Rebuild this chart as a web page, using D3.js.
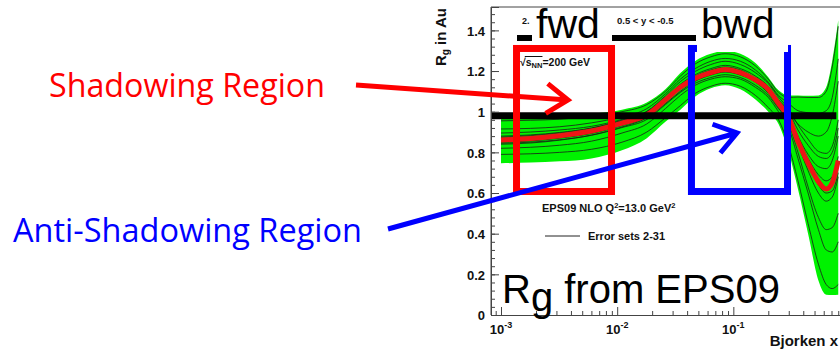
<!DOCTYPE html>
<html>
<head>
<meta charset="utf-8">
<script src="https://cdn.jsdelivr.net/npm/d3@7"></script>
<style>
  body { margin: 0; background: #fff; }
  svg { display: block; }
</style>
</head>
<body>
<svg id="chart" width="840" height="350"></svg>
<script>
// Bjorken-x sampling points of the EPS09 gluon modification
const bjorkenX = [0.001, 0.0018, 0.0032, 0.006, 0.011, 0.018, 0.026, 0.035, 0.047, 0.064, 0.085,
                  0.115, 0.155, 0.2, 0.245, 0.3, 0.36, 0.44, 0.54, 0.63, 0.71, 0.8];
// central set
const centralRg = [0.861, 0.868, 0.882, 0.905, 0.944, 0.984, 1.058, 1.120, 1.164, 1.192, 1.208,
                   1.192, 1.156, 1.110, 1.040, 0.970, 0.853, 0.747, 0.656, 0.620, 0.650, 0.760];
// uncertainty envelope
const bandLow  = [0.746, 0.750, 0.756, 0.770, 0.810, 0.870, 0.950, 1.010, 1.075, 1.115, 1.130,
                  1.110, 1.060, 1.000, 0.940, 0.800, 0.620, 0.400, 0.170, 0.100, 0.098, 0.100];
const bandHigh = [0.970, 0.972, 0.976, 0.990, 1.010, 1.045, 1.110, 1.190, 1.250, 1.285, 1.300,
                  1.285, 1.240, 1.170, 1.105, 1.080, 1.080, 1.078, 1.080, 1.120, 1.250, 1.450];
// individual error sets
const errorSets = [
  [0.955, 0.958, 0.963, 0.978, 1.000, 1.035, 1.100, 1.175, 1.235, 1.270, 1.285, 1.270, 1.225, 1.160, 1.095, 1.070, 1.072, 1.070, 1.070, 1.100, 1.220, 1.420],
  [0.790, 0.793, 0.800, 0.815, 0.850, 0.900, 0.970, 1.030, 1.090, 1.125, 1.140, 1.125, 1.080, 1.020, 0.960, 0.830, 0.660, 0.450, 0.250, 0.150, 0.130, 0.150],
  [0.840, 0.846, 0.860, 0.885, 0.925, 0.970, 1.040, 1.100, 1.150, 1.180, 1.195, 1.180, 1.145, 1.090, 1.020, 0.940, 0.800, 0.630, 0.480, 0.420, 0.430, 0.500],
  [0.875, 0.882, 0.895, 0.918, 0.955, 0.995, 1.065, 1.130, 1.175, 1.205, 1.220, 1.205, 1.165, 1.120, 1.055, 0.990, 0.880, 0.790, 0.730, 0.720, 0.760, 0.880],
  [0.850, 0.856, 0.870, 0.893, 0.932, 0.975, 1.050, 1.110, 1.155, 1.183, 1.198, 1.183, 1.147, 1.100, 1.035, 0.975, 0.870, 0.770, 0.690, 0.660, 0.680, 0.780],
  [0.895, 0.900, 0.910, 0.928, 0.962, 1.002, 1.078, 1.148, 1.198, 1.232, 1.248, 1.232, 1.192, 1.138, 1.072, 1.012, 0.935, 0.865, 0.805, 0.795, 0.830, 0.960],
  [0.820, 0.825, 0.835, 0.855, 0.895, 0.940, 1.015, 1.080, 1.130, 1.160, 1.172, 1.160, 1.120, 1.070, 1.000, 0.920, 0.770, 0.600, 0.420, 0.320, 0.310, 0.360],
  [0.870, 0.876, 0.888, 0.910, 0.948, 0.990, 1.060, 1.120, 1.165, 1.195, 1.210, 1.195, 1.160, 1.110, 1.045, 0.995, 0.940, 0.900, 0.880, 0.900, 0.980, 1.150],
  [0.915, 0.918, 0.926, 0.945, 0.975, 1.015, 1.088, 1.160, 1.212, 1.248, 1.262, 1.248, 1.205, 1.145, 1.080, 1.040, 1.005, 0.995, 0.992, 1.005, 1.070, 1.260],
  [0.860, 0.865, 0.878, 0.900, 0.940, 0.980, 1.055, 1.115, 1.160, 1.190, 1.205, 1.190, 1.150, 1.105, 1.040, 0.965, 0.840, 0.710, 0.600, 0.560, 0.580, 0.680],
  [0.880, 0.886, 0.898, 0.920, 0.958, 1.000, 1.070, 1.135, 1.182, 1.212, 1.228, 1.212, 1.175, 1.125, 1.060, 1.000, 0.910, 0.835, 0.780, 0.770, 0.800, 0.920],
  [0.845, 0.850, 0.862, 0.884, 0.922, 0.962, 1.035, 1.095, 1.140, 1.168, 1.182, 1.168, 1.130, 1.080, 1.015, 0.955, 0.855, 0.745, 0.640, 0.600, 0.610, 0.700]
];
const yTickValues = [0, 0.2, 0.4, 0.6, 0.8, 1, 1.2, 1.4];
const yTickLabels = ["0", "0.2", "0.4", "0.6", "0.8", "1", "1.2", "1.4"];
const xDecades = [-3, -2, -1];
const unityLevel = 0.98;      // thick reference line
const unityEndX = 0.77;
// region boxes in Bjorken x / R_g units
const shadowBox = { x0: 0.00136, x1: 0.00894, y0: 0.6075, y1: 1.311 };
const antiBox   = { x0: 0.0436, x1: 0.2927, y0: 0.6075, y1: 1.311 };

const svg = d3.select("#chart");
const HELV = "'Liberation Sans', Arial, Helvetica, sans-serif";

const x = d3.scaleLog().domain([8.2e-4, 1]).range([491, 849.5]);
const y = d3.scaleLinear().domain([0, 1.515]).range([315, 7]);

svg.append("defs").append("clipPath").attr("id", "plotClip")
  .append("rect").attr("x", 491).attr("y", 7).attr("width", 349).attr("height", 308);

const plot = svg.append("g").attr("clip-path", "url(#plotClip)");
const pts = bjorkenX.map((bx, i) => i);

// green uncertainty band
plot.append("path")
  .datum(pts)
  .attr("fill", "#00f200")
  .attr("d", d3.area().curve(d3.curveMonotoneX)
    .x(i => x(bjorkenX[i])).y0(i => y(bandLow[i])).y1(i => y(bandHigh[i])));

const lineOf = vals => d3.line().curve(d3.curveMonotoneX)
  .x((v, i) => x(bjorkenX[i])).y(v => y(v))(vals);

// error sets
plot.selectAll("path.err").data(errorSets).join("path")
  .attr("class", "err")
  .attr("fill", "none")
  .attr("stroke", "#1a1a1a")
  .attr("stroke-width", 0.8)
  .attr("d", d => lineOf(d));

// central set
plot.append("path")
  .attr("fill", "none")
  .attr("stroke", "#ee1515")
  .attr("stroke-width", 5)
  .attr("d", lineOf(centralRg));

// thick reference line
plot.append("line")
  .attr("x1", x.range()[0]).attr("x2", x(unityEndX))
  .attr("y1", y(unityLevel)).attr("y2", y(unityLevel))
  .attr("stroke", "#000").attr("stroke-width", 7);

// frame
svg.append("path")
  .attr("d", `M491,315V7H840`)
  .attr("fill", "none").attr("stroke", "#444").attr("stroke-width", 1);

// y axis
const yMinor = d3.range(0, 1.52, 0.04);
const yAxisMinor = d3.axisLeft(y).tickValues(yMinor).tickSize(-4).tickFormat("");
const gyMinor = svg.append("g").attr("transform", "translate(491,0)").call(yAxisMinor);
gyMinor.select(".domain").remove();
const yAxis = d3.axisLeft(y).tickValues(yTickValues).tickSize(-8).tickPadding(6)
  .tickFormat((d, i) => yTickLabels[i]);
const gy = svg.append("g").attr("transform", "translate(491,0)").call(yAxis);
gy.select(".domain").attr("stroke", "#444");
svg.selectAll("g.tick line").attr("stroke", "#444");
gy.selectAll("text").attr("font-family", HELV).attr("font-weight", "bold")
  .attr("font-size", 13).attr("fill", "#111").attr("dy", "0.36em");

// x axis
const xMinor = [];
[-4, -3, -2, -1].forEach(e => { for (let m = 2; m <= 9; m++) xMinor.push(m * Math.pow(10, e)); });
const xMinorIn = xMinor.filter(v => v > x.domain()[0] && v < 0.95);
const gxMinor = svg.append("g").attr("transform", "translate(0,315)")
  .call(d3.axisBottom(x).tickValues(xMinorIn).tickSize(-4).tickFormat(""));
gxMinor.select(".domain").remove();
const gx = svg.append("g").attr("transform", "translate(0,315)")
  .call(d3.axisBottom(x).tickValues(xDecades.map(e => Math.pow(10, e))).tickSize(-8).tickFormat(""));
gx.select(".domain").attr("stroke", "#444");
svg.selectAll("g.tick line").attr("stroke", "#444");

xDecades.forEach(e => {
  const t = svg.append("text")
    .attr("x", x(Math.pow(10, e))).attr("y", 334)
    .attr("text-anchor", "middle")
    .attr("font-family", HELV).attr("font-weight", "bold").attr("font-size", 13).attr("fill", "#111");
  t.append("tspan").text("10");
  t.append("tspan").attr("dy", -6).attr("font-size", 9).text(String(e));
});

svg.append("text").attr("x", 838).attr("y", 346).attr("text-anchor", "end")
  .attr("font-family", HELV).attr("font-weight", "bold").attr("font-size", 15).attr("fill", "#111")
  .text("Bjorken x");

// y title
const yt = svg.append("text")
  .attr("transform", "translate(446,8) rotate(-90)")
  .attr("text-anchor", "end")
  .attr("font-family", HELV).attr("font-weight", "bold").attr("font-size", 15).attr("fill", "#111");
yt.append("tspan").text("R");
yt.append("tspan").attr("font-size", 10).attr("dy", 3).text("g");
yt.append("tspan").attr("dy", -3).text(" in Au");

// in-plot labels
const sq = svg.append("text").attr("x", 520).attr("y", 66)
  .attr("font-family", HELV).attr("font-weight", "bold").attr("font-size", 10.5).attr("fill", "#111");
sq.append("tspan").text("\u221A");
sq.append("tspan").text("s");
sq.append("tspan").attr("font-size", 7.5).attr("dy", 2).text("NN");
sq.append("tspan").attr("dy", -2).text("=200 GeV");
{
  const n = sq.node();
  const a = n.getExtentOfChar(1), b = n.getExtentOfChar(3);
  svg.append("line").attr("x1", a.x - 1).attr("x2", b.x + b.width)
    .attr("y1", a.y + 0.5).attr("y2", a.y + 0.5).attr("stroke", "#111").attr("stroke-width", 1);
}

const eps = svg.append("text").attr("x", 542).attr("y", 212)
  .attr("font-family", HELV).attr("font-weight", "bold").attr("font-size", 11).attr("fill", "#111");
eps.append("tspan").text("EPS09 NLO Q");
eps.append("tspan").attr("font-size", 7.5).attr("dy", -4).text("2");
eps.append("tspan").attr("dy", 4).text("=13.0 GeV");
eps.append("tspan").attr("font-size", 7.5).attr("dy", -4).text("2");

svg.append("line").attr("x1", 545).attr("x2", 580).attr("y1", 236).attr("y2", 236)
  .attr("stroke", "#222").attr("stroke-width", 1);
svg.append("text").attr("x", 588).attr("y", 240)
  .attr("font-family", HELV).attr("font-weight", "bold").attr("font-size", 11).attr("fill", "#111")
  .text("Error sets 2-31");

// region boxes
function regionRect(b, color) {
  svg.append("rect")
    .attr("x", x(b.x0)).attr("y", y(b.y1))
    .attr("width", x(b.x1) - x(b.x0)).attr("height", y(b.y0) - y(b.y1))
    .attr("fill", "none").attr("stroke", color).attr("stroke-width", 7);
}
regionRect(shadowBox, "#ff0000");
regionRect(antiBox, "#0000ff");

// title strip with fwd / bwd tags
svg.append("text").attr("x", 522).attr("y", 24)
  .attr("font-family", HELV).attr("font-weight", "bold").attr("font-size", 9).attr("fill", "#111").text("2.");
svg.append("text").attr("x", 617).attr("y", 24)
  .attr("font-family", HELV).attr("font-weight", "bold").attr("font-size", 9.5).attr("fill", "#111")
  .text("0.5 < y < -0.5");
svg.append("rect").attr("x", 517).attr("y", 35).attr("width", 15).attr("height", 6).attr("fill", "#000");
svg.append("rect").attr("x", 612).attr("y", 35).attr("width", 84).attr("height", 6).attr("fill", "#000");

svg.append("rect").attr("x", 532).attr("y", 9).attr("width", 76).attr("height", 36).attr("fill", "#fff");
svg.append("rect").attr("x", 697).attr("y", 9).attr("width", 91).attr("height", 43).attr("fill", "#fff");
svg.append("text").attr("x", 536).attr("y", 38)
  .attr("font-family", HELV).attr("font-size", 41).attr("fill", "#000").text("fwd");
svg.append("text").attr("x", 701).attr("y", 38)
  .attr("font-family", HELV).attr("font-size", 40).attr("fill", "#000").text("bwd");

// big caption
const cap = svg.append("text").attr("x", 502).attr("y", 303)
  .attr("font-family", HELV).attr("font-size", 40).attr("fill", "#000");
cap.append("tspan").text("R");
cap.append("tspan").attr("dy", 8).text("g");
cap.append("tspan").attr("dy", -8).text(" from EPS09");

// arrows
function arrow(x0, y0, x1, y1, color) {
  const ang = Math.atan2(y1 - y0, x1 - x0) + Math.PI;
  const len = 26, spread = 35 * Math.PI / 180;
  const a1 = [x1 + len * Math.cos(ang - spread), y1 + len * Math.sin(ang - spread)];
  const a2 = [x1 + len * Math.cos(ang + spread), y1 + len * Math.sin(ang + spread)];
  svg.append("path")
    .attr("d", `M${x0},${y0}L${x1},${y1}M${a1[0]},${a1[1]}L${x1},${y1}L${a2[0]},${a2[1]}`)
    .attr("fill", "none").attr("stroke", color).attr("stroke-width", 5)
    .attr("stroke-linejoin", "miter");
}
arrow(356, 85, 568, 100, "#ff0000");
arrow(388, 229, 737, 133, "#0000ff");

// side labels
const SANS = "'Open Sans', 'Noto Sans', sans-serif";
svg.append("text").attr("x", 49).attr("y", 97)
  .attr("font-family", SANS).attr("font-size", 33).attr("fill", "#ff0000")
  .attr("textLength", 276).attr("lengthAdjust", "spacingAndGlyphs")
  .text("Shadowing Region");
svg.append("text").attr("x", 13).attr("y", 242)
  .attr("font-family", SANS).attr("font-size", 33).attr("fill", "#0000ff")
  .attr("textLength", 349).attr("lengthAdjust", "spacingAndGlyphs")
  .text("Anti-Shadowing Region");
</script>
</body>
</html>
